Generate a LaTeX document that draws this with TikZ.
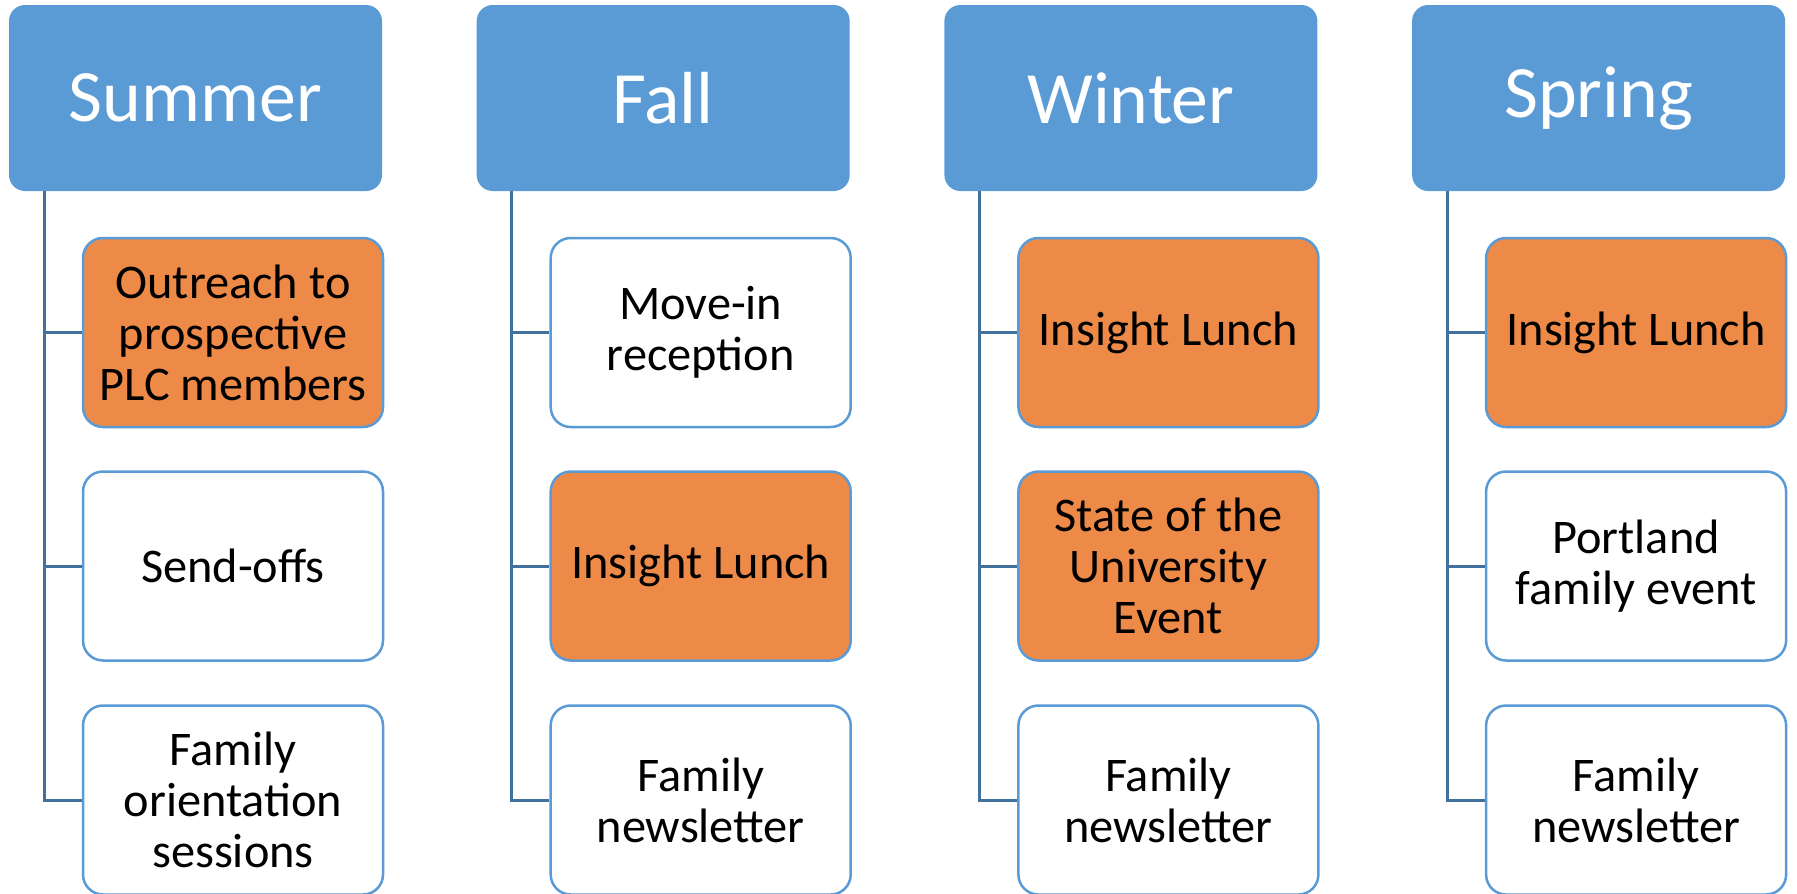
\documentclass[tikz,border=0pt]{standalone}
\usepackage{fontspec}
\setmainfont{Carlito}
\definecolor{hdrblue}{HTML}{5B9BD5}
\definecolor{linkblue}{HTML}{41719C}
\definecolor{evtorange}{HTML}{EE8A47}
\begin{document}
\begin{tikzpicture}[
  season/.style={rectangle, rounded corners=0.3cm, fill=hdrblue, draw=hdrblue, line width=0.04cm, minimum width=7.42cm, minimum height=3.68cm, text=white, font=\fontsize{42}{46}\selectfont},
  event/.style={rectangle, rounded corners=0.4cm, draw=hdrblue, line width=0.05cm, fill=white, minimum width=6cm, minimum height=3.78cm, align=center, font=\fontsize{27.5}{29}\selectfont},
  hot/.style={event, fill=evtorange},
  link/.style={draw=linkblue, line width=0.06cm}
]
\useasboundingbox (0,0) rectangle (35.94,-17.86);
% season headers
\node [season] (sumhead) at (3.91,-1.96) {Summer};
\node [season] (fallhead) at (13.264,-1.96) {Fall};
\node [season] (winhead) at (22.618,-1.96) {Winter};
\node [season] (sprhead) at (31.972,-1.96) {Spring};
% summer
\node [hot] (sum1) at (4.66,-6.65) {Outreach to\\prospective\\PLC members};
\node [event] (sum2) at (4.66,-11.32) {Send-offs};
\node [event] (sum3) at (4.66,-16.0) {Family\\orientation\\sessions};
% fall
\node [event] (fall1) at (14.014,-6.65) {Move-in\\reception};
\node [hot] (fall2) at (14.014,-11.32) {Insight Lunch};
\node [event] (fall3) at (14.014,-16.0) {Family\\newsletter};
% winter
\node [hot] (win1) at (23.368,-6.65) {Insight Lunch};
\node [hot] (win2) at (23.368,-11.32) {State of the\\University\\Event};
\node [event] (win3) at (23.368,-16.0) {Family\\newsletter};
% spring
\node [hot] (spr1) at (32.722,-6.65) {Insight Lunch};
\node [event] (spr2) at (32.722,-11.32) {Portland\\family event};
\node [event] (spr3) at (32.722,-16.0) {Family\\newsletter};
% spines
\coordinate (sumspine) at ([xshift=0.7cm]sumhead.south west);
\coordinate (fallspine) at ([xshift=0.7cm]fallhead.south west);
\coordinate (winspine) at ([xshift=0.7cm]winhead.south west);
\coordinate (sprspine) at ([xshift=0.7cm]sprhead.south west);
\draw [link] (sumspine) |- (sum1.west);
\draw [link] (sumspine) |- (sum2.west);
\draw [link] (sumspine) |- (sum3.west);
\draw [link] (fallspine) |- (fall1.west);
\draw [link] (fallspine) |- (fall2.west);
\draw [link] (fallspine) |- (fall3.west);
\draw [link] (winspine) |- (win1.west);
\draw [link] (winspine) |- (win2.west);
\draw [link] (winspine) |- (win3.west);
\draw [link] (sprspine) |- (spr1.west);
\draw [link] (sprspine) |- (spr2.west);
\draw [link] (sprspine) |- (spr3.west);
\end{tikzpicture}
\end{document}
